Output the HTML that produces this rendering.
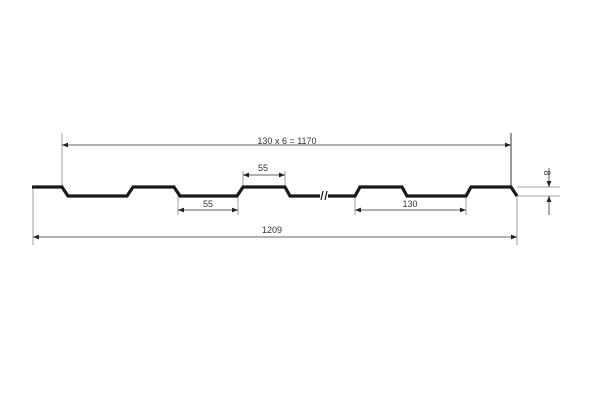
<!DOCTYPE html><html><head><style>body{margin:0;background:#fff}svg{display:block}</style></head><body>
<svg width="600" height="400" xmlns="http://www.w3.org/2000/svg" font-family="Liberation Sans, sans-serif" font-size="9" fill="#333">
<defs><marker id="a" viewBox="0 0 10 10" refX="10" refY="5" markerWidth="7" markerHeight="6" orient="auto-start-reverse" markerUnits="userSpaceOnUse"><path d="M0,1 L10,5 L0,9z" fill="#222"/></marker></defs>
<g stroke="#888" stroke-width="0.8" fill="none">
<line x1="62" y1="133" x2="62" y2="187"/>
<line x1="33" y1="187" x2="33" y2="245"/>
<line x1="517" y1="196" x2="517" y2="245"/>
<line x1="517" y1="187" x2="560" y2="187"/>
<line x1="517" y1="196" x2="560" y2="196"/>
<line x1="243" y1="171" x2="243" y2="187"/><line x1="285" y1="171" x2="285" y2="187"/>
<line x1="178" y1="196" x2="178" y2="215"/><line x1="238" y1="196" x2="238" y2="215"/>
<line x1="355" y1="196" x2="355" y2="215"/><line x1="466" y1="196" x2="466" y2="215"/>
</g>
<line x1="511" y1="133" x2="511" y2="187" stroke="#222" stroke-width="0.9"/>
<g stroke="#333" stroke-width="0.8">
<line x1="62" y1="145" x2="511" y2="145" marker-start="url(#a)" marker-end="url(#a)"/>
<line x1="33" y1="237" x2="517" y2="237" marker-start="url(#a)" marker-end="url(#a)"/>
<line x1="243" y1="175" x2="285" y2="175" marker-start="url(#a)" marker-end="url(#a)"/>
<line x1="178" y1="210" x2="238" y2="210" marker-start="url(#a)" marker-end="url(#a)"/>
<line x1="355" y1="210" x2="466" y2="210" marker-start="url(#a)" marker-end="url(#a)"/>
<line x1="549" y1="168" x2="549" y2="187" marker-end="url(#a)"/>
<line x1="549" y1="215" x2="549" y2="196" marker-end="url(#a)"/>
</g>
<path d="M32,187 H62 L68,196 H127 L133,187 H174 L180,196 H237 L243,187 H285 L290,196 H320 M328,196 H355 L360,187 H402 L407,196 H466 L471,187 H511 L517,196" fill="none" stroke="#1a1a1a" stroke-width="3.2" stroke-linejoin="miter"/>
<g stroke="#1a1a1a" stroke-width="1.2"><line x1="321" y1="200" x2="323" y2="191"/><line x1="325" y1="200" x2="327" y2="191"/></g>
<g text-anchor="middle">
<text x="287" y="144">130 x 6 = 1170</text>
<text x="272" y="233">1209</text>
<text x="263" y="171">55</text>
<text x="208" y="207">55</text>
<text x="410" y="207">130</text>
<text x="0" y="0" transform="translate(544,173) rotate(90)">8</text>
</g>
</svg></body></html>
